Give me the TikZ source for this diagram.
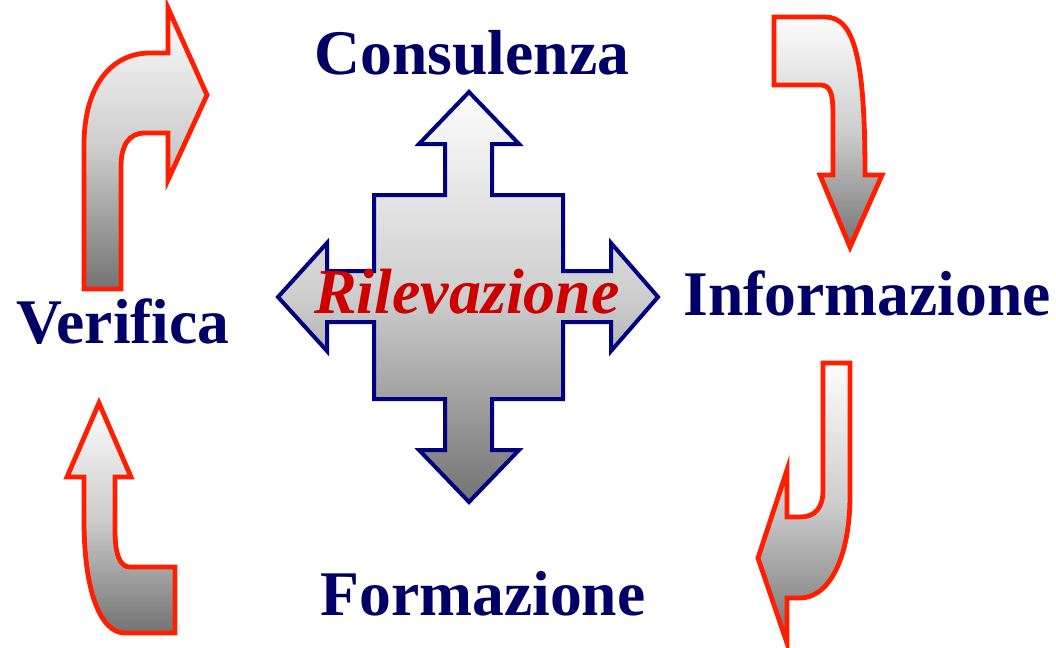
\documentclass[tikz,border=0pt]{standalone}
\usepackage{fontspec}
\setmainfont{Liberation Serif}

\definecolor{arrowRed}{RGB}{255,30,0}
\definecolor{crossNavy}{RGB}{0,0,128}
\definecolor{textNavy}{RGB}{0,0,102}
\definecolor{labelRed}{RGB}{204,0,0}
\definecolor{shadeTop}{RGB}{253,253,253}
\definecolor{shadeMid}{RGB}{205,205,205}
\definecolor{shadeBot}{RGB}{115,115,115}

\tikzset{every picture/.style={line width=0.75pt}}
\tikzset{
  bentarrow/.style={draw=arrowRed,line width=3.6pt,top color=shadeTop,bottom color=shadeBot,middle color=shadeMid},
  crossarrow/.style={draw=crossNavy,line width=3pt,top color=shadeTop,bottom color=shadeBot,middle color=shadeMid},
  steplabel/.style={anchor=base,inner sep=0.75pt,text=textNavy,font=\fontsize{47.7}{50}\selectfont\bfseries},
}

\begin{document}
\begin{tikzpicture}[x=0.75pt,y=0.75pt,yscale=-1,xscale=1]
\useasboundingbox (0,0) rectangle (1056,647);

%Shape: Cross Arrow [id:crossRilevazione]
\draw [crossarrow] (469,92) -- (519,144) -- (492,144) -- (492,195) -- (563,195) -- (563,271) -- (611,271) -- (611,243) -- (658,297) -- (611,351) -- (611,322) -- (563,322) -- (563,399) -- (492,399) -- (492,450) -- (519,450) -- (469,502) -- (419,450) -- (445,450) -- (445,399) -- (374,399) -- (374,322) -- (327,322) -- (327,351) -- (278,297) -- (327,243) -- (327,271) -- (374,271) -- (374,195) -- (445,195) -- (445,144) -- (419,144) -- cycle ;

%Shape: Bent Arrow [id:arrowVerificaUp]
\draw [bentarrow] (84,289) -- (84,145) .. controls (84,85) and (112,53) .. (150,53) -- (168,53) -- (168,8) -- (207,95) -- (168,180) -- (168,133) -- (145,133) .. controls (129,133) and (121,145) .. (121,167) -- (121,289) -- cycle ;
%Shape: Bent Arrow [id:arrowInformazioneDown]
\draw [bentarrow] (774,17) -- (825,17) .. controls (855,17) and (865,60) .. (865,175) -- (882,175) -- (850,247) -- (820,175) -- (833,175) -- (833,115) .. controls (833,92) and (830,85) .. (820,85) -- (774,85) -- cycle ;
%Shape: Bent Arrow [id:arrowFormazioneDown]
\draw [bentarrow] (823,363) -- (850,363) -- (850,495) .. controls (850,560) and (828,598) .. (800,598) -- (787,598) -- (787,643) -- (758,558) -- (787,470) -- (787,517) -- (800,517) .. controls (815,517) and (823,508) .. (823,490) -- cycle ;
%Shape: Bent Arrow [id:arrowVerificaUpLow]
\draw [bentarrow] (99,403) -- (131,477) -- (115,477) -- (115,530) .. controls (115,555) and (120,567) .. (130,567) -- (175,567) -- (175,633) -- (125,633) .. controls (100,633) and (84,590) .. (84,520) -- (84,477) -- (67,477) -- cycle ;

% Text Node
\node (consulenza) [steplabel] at (472,74) {Consulenza};
% Text Node
\node (verifica) [steplabel] at (123,343) {Verifica};
% Text Node
\node (informazione) [steplabel] at (867,315) {Informazione};
% Text Node
\node (formazione) [steplabel] at (483,615) {Formazione};
% Text Node
\node (rilevazione) [anchor=base,inner sep=0.75pt,text=labelRed,font=\fontsize{48}{50}\selectfont\bfseries\itshape] at (467,313) {Rilevazione};

\end{tikzpicture}
\end{document}
